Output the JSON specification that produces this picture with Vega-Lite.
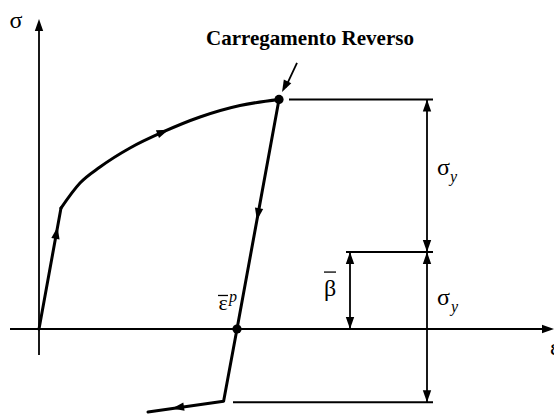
{
  "$schema": "https://vega.github.io/schema/vega-lite/v6.json",
  "width": 554,
  "height": 414,
  "autosize": {"type": "none"},
  "padding": 0,
  "background": "white",
  "config": {"view": {"stroke": null}},
  "datasets": {
    "hardening": [
      {"i": 0, "x": 0.22, "y": 0.801},
      {"i": 1, "x": 0.41, "y": 0.967},
      {"i": 2, "x": 0.61, "y": 1.073},
      {"i": 3, "x": 0.91, "y": 1.199},
      {"i": 4, "x": 1.24, "y": 1.305},
      {"i": 5, "x": 1.61, "y": 1.404},
      {"i": 6, "x": 2.01, "y": 1.48},
      {"i": 7, "x": 2.4, "y": 1.52}
    ],
    "elastic": [
      {"branch": "loading", "i": 0, "x": 0, "y": 0},
      {"branch": "loading", "i": 1, "x": 0.22, "y": 0.801},
      {"branch": "unloading", "i": 0, "x": 2.4, "y": 1.52},
      {"branch": "unloading", "i": 1, "x": 1.98, "y": 0},
      {"branch": "unloading", "i": 2, "x": 1.846, "y": -0.478},
      {"branch": "unloading", "i": 3, "x": 1.09, "y": -0.55}
    ],
    "segments": [
      {"x": 0, "y": -0.172, "x2": 0, "y2": 2.02},
      {"x": -0.29, "y": 0, "x2": 5.09, "y2": 0},
      {"x": 2.5, "y": 1.52, "x2": 3.94, "y2": 1.52},
      {"x": 3.07, "y": 0.51, "x2": 3.94, "y2": 0.51},
      {"x": 1.94, "y": -0.485, "x2": 3.94, "y2": -0.485},
      {"x": 3.88, "y": 1.52, "x2": 3.88, "y2": -0.485},
      {"x": 3.11, "y": 0.51, "x2": 3.11, "y2": 0},
      {"x": 2.58, "y": 1.762, "x2": 2.465, "y2": 1.6}
    ],
    "bars": [
      {"x": 2.85, "y": 0.377, "x2": 2.97, "y2": 0.377},
      {"x": 1.79, "y": 0.222, "x2": 1.89, "y2": 0.222}
    ],
    "heads": [
      {"x": 0.175, "y": 0.636, "dir": -79.7},
      {"x": 1.24, "y": 1.305, "dir": -22},
      {"x": 2.19, "y": 0.76, "dir": 100.4},
      {"x": 1.39, "y": -0.52, "dir": 171.5},
      {"x": 0, "y": 2.013, "dir": -90},
      {"x": 5.09, "y": 0, "dir": 0},
      {"x": 2.458, "y": 1.605, "dir": 117.3},
      {"x": 3.88, "y": 1.48, "dir": -90},
      {"x": 3.88, "y": 0.55, "dir": 90},
      {"x": 3.88, "y": 0.47, "dir": -90},
      {"x": 3.88, "y": -0.445, "dir": 90},
      {"x": 3.11, "y": 0.47, "dir": -90},
      {"x": 3.11, "y": 0.04, "dir": 90}
    ],
    "dots": [
      {"x": 2.4, "y": 1.52},
      {"x": 1.98, "y": 0}
    ],
    "symbols": [
      {"x": -0.23, "y": 1.993, "t": "σ", "pos": "center"},
      {"x": 5.11, "y": -0.172, "t": "ε", "pos": "left"},
      {"x": 3.98, "y": 1.02, "t": "σ", "pos": "left"},
      {"x": 3.98, "y": 0.159, "t": "σ", "pos": "left"},
      {"x": 2.91, "y": 0.219, "t": "β", "pos": "center"}
    ],
    "strain": [
      {"x": 1.84, "y": 0.126, "t": "ε"}
    ],
    "indices": [
      {"x": 4.11, "y": 0.974, "t": "y"},
      {"x": 4.12, "y": 0.113, "t": "y"},
      {"x": 1.9, "y": 0.179, "t": "p"}
    ],
    "title": [
      {"x": 2.71, "y": 1.881, "t": "Carregamento Reverso"}
    ]
  },
  "encoding": {
    "x": {"field": "x", "type": "quantitative", "scale": {"domain": [-0.39, 5.15], "nice": false, "zero": false}, "axis": null},
    "y": {"field": "y", "type": "quantitative", "scale": {"domain": [-0.5629, 2.1788], "nice": false, "zero": false}, "axis": null}
  },
  "layer": [
    {
      "data": {"name": "segments"},
      "mark": {"type": "rule", "color": "black", "strokeWidth": 1.8},
      "encoding": {"x2": {"field": "x2"}, "y2": {"field": "y2"}}
    },
    {
      "data": {"name": "bars"},
      "mark": {"type": "rule", "color": "black", "strokeWidth": 1.3},
      "encoding": {"x2": {"field": "x2"}, "y2": {"field": "y2"}}
    },
    {
      "data": {"name": "elastic"},
      "mark": {"type": "line", "color": "black", "strokeWidth": 3, "strokeJoin": "round", "strokeCap": "round"},
      "encoding": {
        "detail": {"field": "branch"},
        "order": {"field": "i", "type": "quantitative"}
      }
    },
    {
      "data": {"name": "hardening"},
      "mark": {"type": "line", "color": "black", "strokeWidth": 3, "strokeCap": "round", "interpolate": "monotone"},
      "encoding": {"order": {"field": "i", "type": "quantitative"}}
    },
    {
      "data": {"name": "heads"},
      "mark": {"type": "point", "shape": "M1,0L-1,-0.7L-1,0.7Z", "filled": true, "color": "black", "opacity": 1, "size": 144, "strokeWidth": 0},
      "encoding": {"angle": {"field": "dir", "type": "quantitative", "scale": null}}
    },
    {
      "data": {"name": "dots"},
      "mark": {"type": "circle", "color": "black", "opacity": 1, "size": 85}
    },
    {
      "data": {"name": "symbols"},
      "transform": [{"filter": "datum.pos === 'center'"}],
      "mark": {"type": "text", "font": "Liberation Serif", "fontSize": 24, "align": "center", "baseline": "alphabetic", "color": "black"},
      "encoding": {"text": {"field": "t"}}
    },
    {
      "data": {"name": "symbols"},
      "transform": [{"filter": "datum.pos === 'left'"}],
      "mark": {"type": "text", "font": "Liberation Serif", "fontSize": 24, "align": "left", "baseline": "alphabetic", "color": "black", "clip": true},
      "encoding": {"text": {"field": "t"}}
    },
    {
      "data": {"name": "strain"},
      "mark": {"type": "text", "font": "Liberation Serif", "fontSize": 22, "align": "center", "baseline": "alphabetic", "color": "black"},
      "encoding": {"text": {"field": "t"}}
    },
    {
      "data": {"name": "indices"},
      "mark": {"type": "text", "font": "Liberation Serif", "fontSize": 16, "fontStyle": "italic", "align": "left", "baseline": "alphabetic", "color": "black"},
      "encoding": {"text": {"field": "t"}}
    },
    {
      "data": {"name": "title"},
      "mark": {"type": "text", "font": "Liberation Serif", "fontSize": 21, "fontWeight": "bold", "align": "center", "baseline": "alphabetic", "color": "black"},
      "encoding": {"text": {"field": "t"}}
    }
  ]
}
